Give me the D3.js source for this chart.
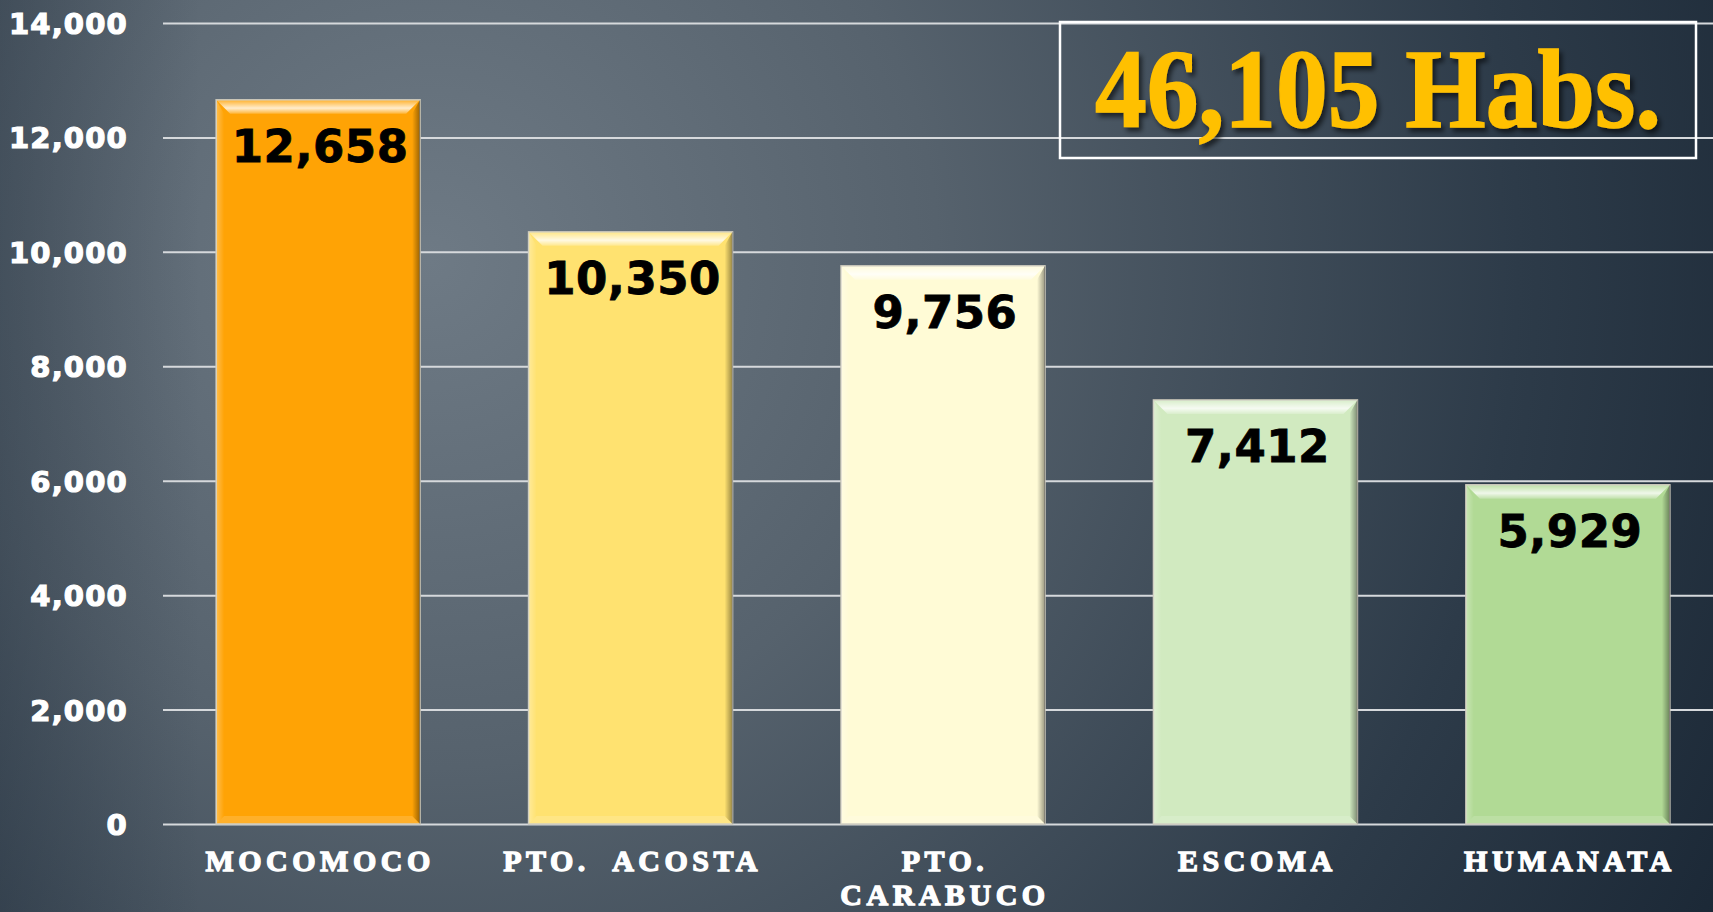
<!DOCTYPE html>
<html><head><meta charset="utf-8">
<script src="https://cdn.jsdelivr.net/npm/d3@7"></script>
<style>html,body{margin:0;padding:0;overflow:hidden;background:#1c2937}</style>
</head><body>
<script>
const categories = [["MOCOMOCO"], ["PTO.  ACOSTA"], ["PTO.", "CARABUCO"], ["ESCOMA"], ["HUMANATA"]];
const values = [12658, 10350, 9756, 7412, 5929];
const barColors = ["#FFA305", "#FFE270", "#FFFBD6", "#D1EAC0", "#B1DA95"];
const yTicks = [0, 2000, 4000, 6000, 8000, 10000, 12000, 14000];
const totalLabel = "46,105 Habs.";

const W = 1713, H = 912;
const svg = d3.select("body").append("svg").attr("width", W).attr("height", H);
const defs = svg.append("defs");

const bg = defs.append("radialGradient").attr("id", "bg")
  .attr("gradientUnits", "userSpaceOnUse").attr("cx", 430).attr("cy", 260).attr("r", 1450);
bg.append("stop").attr("offset", 0).attr("stop-color", "#6e7a85");
bg.append("stop").attr("offset", 0.35).attr("stop-color", "#56626d");
bg.append("stop").attr("offset", 0.75).attr("stop-color", "#2d3b49");
bg.append("stop").attr("offset", 1).attr("stop-color", "#1b2836");
svg.append("rect").attr("width", W).attr("height", H).attr("fill", "url(#bg)");
const lg = defs.append("linearGradient").attr("id", "leftShade").attr("x1", 0).attr("x2", 1).attr("y1", 0).attr("y2", 0);
lg.append("stop").attr("offset", 0).attr("stop-color", "#1b2836").attr("stop-opacity", 0.35);
lg.append("stop").attr("offset", 1).attr("stop-color", "#1b2836").attr("stop-opacity", 0);
svg.append("rect").attr("width", 200).attr("height", H).attr("fill", "url(#leftShade)");

const sh = defs.append("filter").attr("id", "shadow").attr("x", "-10%").attr("y", "-10%").attr("width", "120%").attr("height", "130%");
sh.append("feDropShadow").attr("dx", 3).attr("dy", 4).attr("stdDeviation", 2.5).attr("flood-color", "#000").attr("flood-opacity", 0.6);

const topHi = defs.append("linearGradient").attr("id", "topHi").attr("x1", 0).attr("x2", 0).attr("y1", 0).attr("y2", 1);
topHi.append("stop").attr("offset", 0).attr("stop-color", "#fff").attr("stop-opacity", 0.15);
topHi.append("stop").attr("offset", 0.6).attr("stop-color", "#fff").attr("stop-opacity", 0.8);
topHi.append("stop").attr("offset", 1).attr("stop-color", "#fff").attr("stop-opacity", 0.2);
const rightSh = defs.append("linearGradient").attr("id", "rightSh").attr("x1", 0).attr("x2", 1).attr("y1", 0).attr("y2", 0);
rightSh.append("stop").attr("offset", 0).attr("stop-color", "#000").attr("stop-opacity", 0.0);
rightSh.append("stop").attr("offset", 1).attr("stop-color", "#000").attr("stop-opacity", 0.4);
const leftHi = defs.append("linearGradient").attr("id", "leftHi").attr("x1", 0).attr("x2", 1).attr("y1", 0).attr("y2", 0);
leftHi.append("stop").attr("offset", 0).attr("stop-color", "#fff").attr("stop-opacity", 0.3);
leftHi.append("stop").attr("offset", 1).attr("stop-color", "#fff").attr("stop-opacity", 0.0);

const x = d3.scaleBand().domain(d3.range(values.length)).range([163, 1723]).paddingInner(0.347).paddingOuter(0.17);
const y = d3.scaleLinear().domain([0, 14000]).range([824, 23]);

const axis = svg.append("g").attr("transform", "translate(163,0)")
  .call(d3.axisLeft(y).tickValues(yTicks).tickSize(-(W - 163)).tickPadding(35).tickFormat(d3.format(",")));
axis.select(".domain").remove();
axis.selectAll(".tick line").attr("stroke", "#d6d9dc").attr("stroke-width", 2).attr("x1", 0).attr("x2", W - 163);
axis.selectAll(".tick text").attr("fill", "#fff").attr("font-family", "'DejaVu Sans', Verdana, sans-serif")
  .attr("font-weight", "bold").attr("font-size", 29).attr("letter-spacing", 1.2)
  .attr("stroke", "#fff").attr("stroke-width", 1.2).attr("dy", "0.36em");

const b = 14;
const bars = svg.append("g").selectAll("g").data(values).join("g");
bars.each(function(v, i) {
  const g = d3.select(this);
  const x0 = x(i), w = x.bandwidth(), y0 = y(v), h = y(0) - y(v);
  g.append("rect").attr("x", x0).attr("y", y0).attr("width", w).attr("height", h)
    .attr("fill", barColors[i]).attr("stroke", "#c9c6b8").attr("stroke-width", 1.5);
  g.append("path").attr("d", `M${x0},${y0}L${x0 + w},${y0}L${x0 + w - b},${y0 + b}L${x0 + b},${y0 + b}Z`).attr("fill", "url(#topHi)");
  g.append("path").attr("d", `M${x0 + w},${y0}L${x0 + w},${y0 + h}L${x0 + w - 8},${y0 + h - 8}L${x0 + w - 8},${y0 + b}Z`).attr("fill", "url(#rightSh)");
  g.append("path").attr("d", `M${x0},${y0}L${x0},${y0 + h}L${x0 + 8},${y0 + h - 8}L${x0 + 8},${y0 + b}Z`).attr("fill", "url(#leftHi)");
  g.append("path").attr("d", `M${x0},${y0 + h}L${x0 + w},${y0 + h}L${x0 + w - 8},${y0 + h - 8}L${x0 + 8},${y0 + h - 8}Z`).attr("fill", "#fff").attr("opacity", 0.15);
  g.append("text").attr("x", x0 + w / 2 + 2).attr("y", y0 + 62).attr("text-anchor", "middle")
    .attr("font-family", "'DejaVu Sans', Verdana, sans-serif").attr("font-weight", "bold").attr("font-size", 45)
    .attr("letter-spacing", 0.5).attr("stroke", "#000").attr("stroke-width", 0.8)
    .attr("fill", "#000").text(d3.format(",")(v));
});

const cat = svg.append("g").selectAll("text").data(categories).join("text")
  .attr("x", (d, i) => x(i) + x.bandwidth() / 2 + 2).attr("y", 871).attr("text-anchor", "middle")
  .attr("font-family", "'Liberation Serif', 'Times New Roman', serif").attr("font-weight", "bold")
  .attr("font-size", 30).attr("letter-spacing", 4.5).attr("fill", "#fff")
  .attr("stroke", "#fff").attr("stroke-width", 1.3).style("white-space", "pre");
cat.selectAll("tspan").data(d => d).join("tspan")
  .attr("x", function() { return d3.select(this.parentNode).attr("x"); })
  .attr("dy", (d, j) => j === 0 ? 0 : 34).text(d => d);

svg.append("rect").attr("x", 1060).attr("y", 22).attr("width", 636).attr("height", 136)
  .attr("fill", "none").attr("stroke", "#fff").attr("stroke-width", 2.5);
svg.append("text").attr("x", 1378).attr("y", 127).attr("text-anchor", "middle")
  .attr("font-family", "'Liberation Serif', 'Times New Roman', serif").attr("font-weight", "bold")
  .attr("font-size", 112).attr("fill", "#FFC000").attr("stroke", "#FFC000").attr("stroke-width", 1.5)
  .attr("textLength", 566).attr("lengthAdjust", "spacingAndGlyphs")
  .attr("filter", "url(#shadow)").text(totalLabel);
</script>
</body></html>
